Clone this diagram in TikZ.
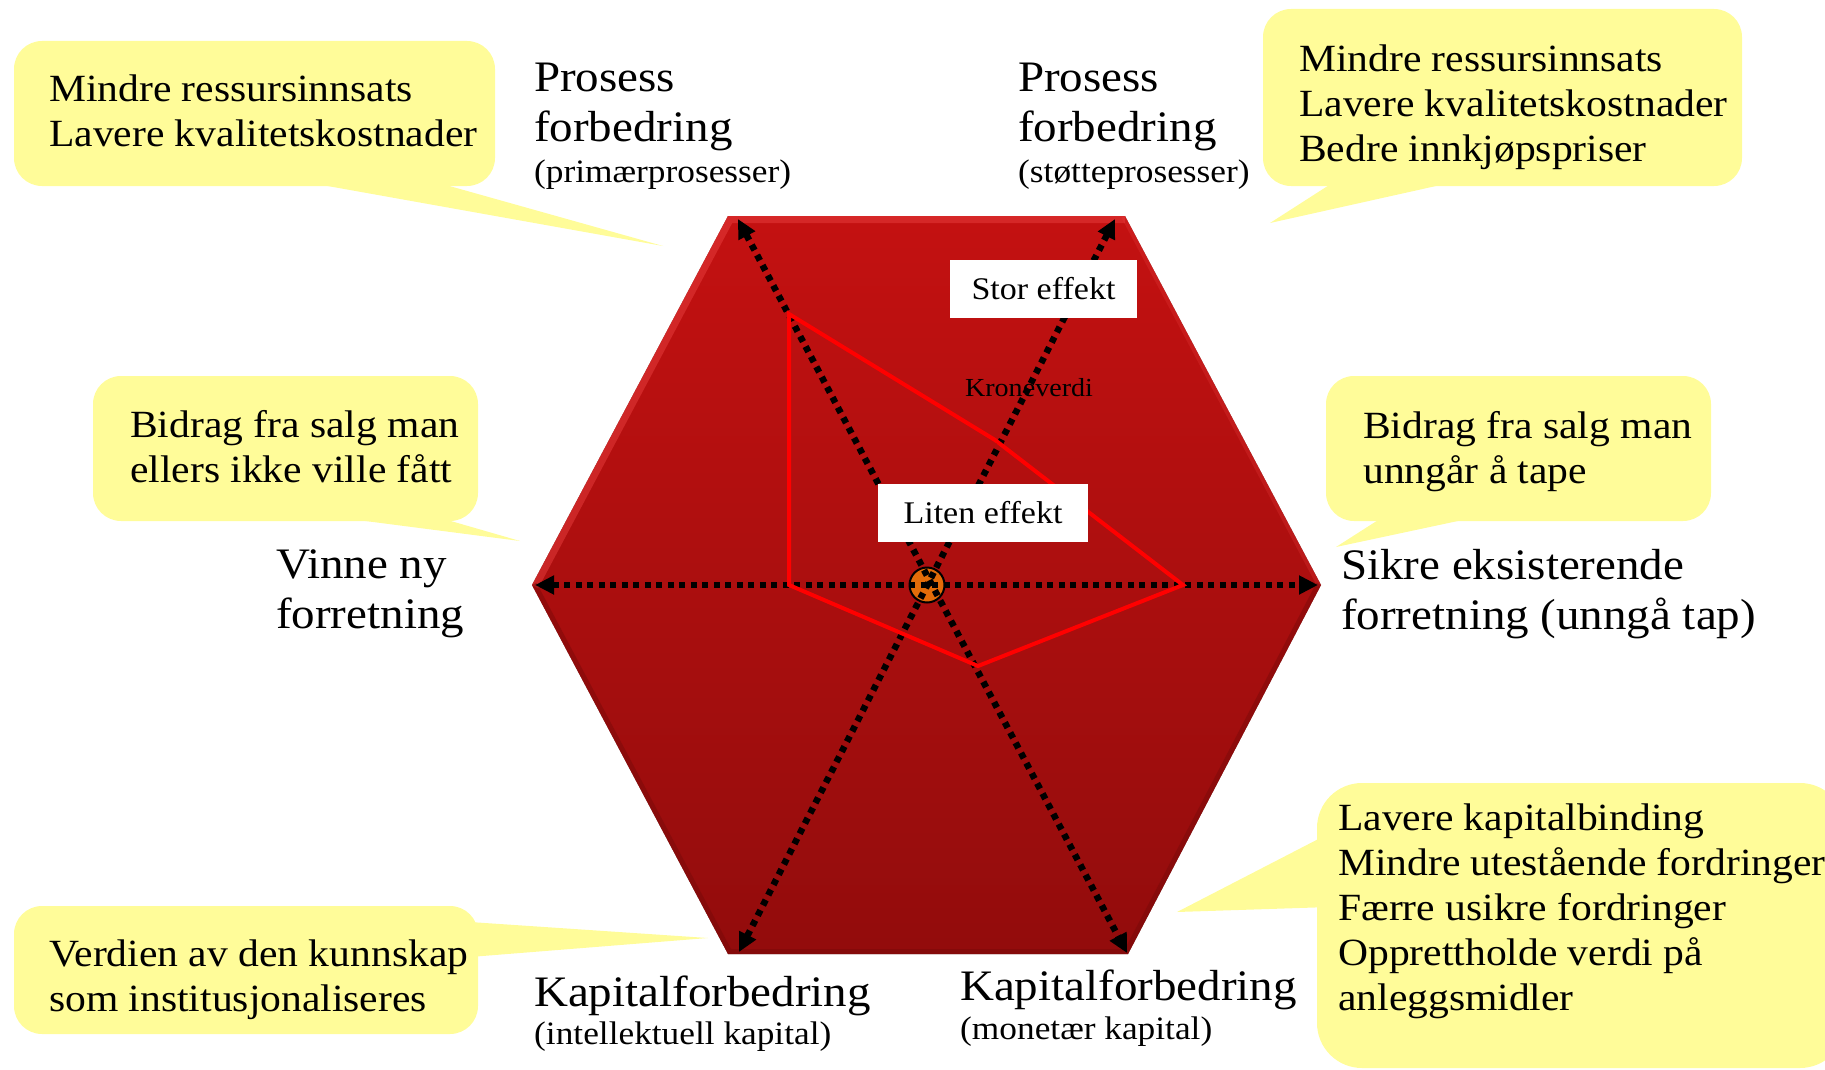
\documentclass[tikz,border=0pt]{standalone}
\usepackage{fontspec}
\setmainfont{Liberation Serif}[FakeStretch=1.08]
\usetikzlibrary{arrows.meta}

\definecolor{bubblefill}{RGB}{255,252,153}
\definecolor{hextop}{RGB}{196,17,17}
\definecolor{hexbot}{RGB}{146,12,12}
\definecolor{hexlight}{RGB}{232,62,62}
\definecolor{hexdark}{RGB}{112,8,8}
\definecolor{hubfill}{RGB}{227,108,9}

\tikzset{
  bubble/.style={fill=bubblefill, draw=none},
  calltext/.style={font=\fontsize{38.5}{45}\selectfont, align=left, anchor=west, inner sep=0pt},
  axislabel/.style={font=\fontsize{43.5}{50}\selectfont, align=left, anchor=west, inner sep=0pt},
  sublabel/.style={font=\fontsize{32.7}{36}\selectfont, anchor=west, inner sep=0pt},
  effectbox/.style={fill=white, draw=none, inner sep=0pt, minimum height=58pt,
    font=\fontsize{31.5}{36}\selectfont},
  axisline/.style={line width=6.5pt, dash pattern=on 6pt off 5.5pt,
    {Triangle[length=19pt,width=18pt]}-{Triangle[length=19pt,width=18pt]}},
  radar/.style={draw=red, line width=4pt, line join=miter},
}

\begin{document}
\begin{tikzpicture}[x=1pt,y=-1pt]
\useasboundingbox (0,0) rectangle (1825,1070);

% hexagon corners
\coordinate (R)  at (1321,585);
\coordinate (TR) at (1125,216);
\coordinate (TL) at (728,216);
\coordinate (L)  at (532,585);
\coordinate (BL) at (728,954);
\coordinate (BR) at (1128,954);

% soft shadow under the hexagon
\foreach \d/\o in {2/0.18,4/0.14,6/0.10,8/0.06}{
  \fill[black, opacity=\o, shift={(\d pt,-\d pt)}]
    (R) -- (TR) -- (TL) -- (L) -- (BL) -- (BR) -- cycle;
}

% hexagon body with bevelled rim
\begin{scope}
  \clip (R) -- (TR) -- (TL) -- (L) -- (BL) -- (BR) -- cycle;
  \shade[top color=hextop, bottom color=hexbot] (520,210) rectangle (1335,960);
  \draw[hexlight, line width=14pt, opacity=0.5, line join=round] (L) -- (TL) -- (TR);
  \draw[hexlight, line width=8pt, opacity=0.25, line join=round] (TR) -- (R);
  \draw[hexdark, line width=10pt, opacity=0.4, line join=round] (R) -- (BR) -- (BL) -- (L);
\end{scope}

% arrow end points on the axes
\coordinate (aTL) at (738,219);
\coordinate (aTR) at (1115,219);
\coordinate (aL)  at (535,585);
\coordinate (aR)  at (1318,585);
\coordinate (aBL) at (739,952);
\coordinate (aBR) at (1127,953);

% centre hub
\node[circle, fill=hubfill, draw=black, line width=2pt, minimum size=35pt, inner sep=0pt] (hub) at (927,585) {};

\node[font=\fontsize{26}{30}\selectfont, inner sep=0pt] (krone) at (1029,388) {Kroneverdi};

% the three dotted axes
\draw[axisline] (aL) -- (aR);
\draw[axisline] (aTL) -- (aBR);
\draw[axisline] (aTR) -- (aBL);

% value profile
\coordinate (p1) at (789,314);
\coordinate (p2) at (995,440);
\coordinate (p3) at (1183,585);
\coordinate (p4) at (978,666);
\coordinate (p5) at (789,585);
\draw[radar] (p1) -- (p2) -- (p3) -- (p4) -- (p5) -- cycle;

\node[effectbox, minimum width=187pt] (stor) at (1043.5,289) {Stor effekt};
\node[effectbox, minimum width=210pt] (liten) at (983,513) {Liten effekt};

% axis labels
\node[axislabel] (pp) at (534,107) {Prosess\\forbedring};
\node[sublabel] (ppsub) at (534,175) {(primærprosesser)};
\node[axislabel] (ps) at (1018,107) {Prosess\\forbedring};
\node[sublabel] (pssub) at (1018,175) {(støtteprosesser)};
\node[axislabel] (vn) at (276,594) {Vinne ny\\forretning};
\node[axislabel] (se) at (1341,594) {Sikre eksisterende\\forretning (unngå tap)};
\node[axislabel] (ki) at (534,996) {Kapitalforbedring};
\node[sublabel] (kisub) at (534,1037) {(intellektuell kapital)};
\node[axislabel] (km) at (960,990) {Kapitalforbedring};
\node[sublabel] (kmsub) at (960,1032) {(monetær kapital)};

% callouts
\fill[bubble, rounded corners=28pt] (14,41) rectangle (495,186);
\fill[bubble] (294,180) -- (663,246) -- (428,180) -- cycle;
\node[calltext] (c1) at (49,111) {Mindre ressursinnsats\\Lavere kvalitetskostnader};

\fill[bubble, rounded corners=28pt] (1263,9) rectangle (1742,186);
\fill[bubble] (1337,180) -- (1270,223) -- (1463,180) -- cycle;
\node[calltext] (c2) at (1299,107) {Mindre ressursinnsats\\Lavere kvalitetskostnader\\Bedre innkjøpspriser};

\fill[bubble, rounded corners=28pt] (93,376) rectangle (478,521);
\fill[bubble] (319,515) -- (520,541) -- (430,515) -- cycle;
\node[calltext] (c3) at (130,447) {Bidrag fra salg man\\ellers ikke ville fått};

\fill[bubble, rounded corners=28pt] (1326,376) rectangle (1711,521);
\fill[bubble] (1386,515) -- (1336,547) -- (1486,515) -- cycle;
\node[calltext] (c4) at (1363,452) {Bidrag fra salg man\\unngår å tape};

\fill[bubble, rounded corners=28pt] (14,906) rectangle (478,1034);
\fill[bubble] (470,922) -- (708,938) -- (470,957) -- cycle;
\node[calltext] (c5) at (49,980) {Verdien av den kunnskap\\som institusjonaliseres};

\fill[bubble, rounded corners=45pt] (1317,783) rectangle (1845,1068);
\fill[bubble] (1330,833) -- (1177,912) -- (1330,907) -- cycle;
\node[calltext] (c6) at (1338,911) {Lavere kapitalbinding\\Mindre utestående fordringer\\Færre usikre fordringer\\Opprettholde verdi på\\anleggsmidler};
\end{tikzpicture}
\end{document}
